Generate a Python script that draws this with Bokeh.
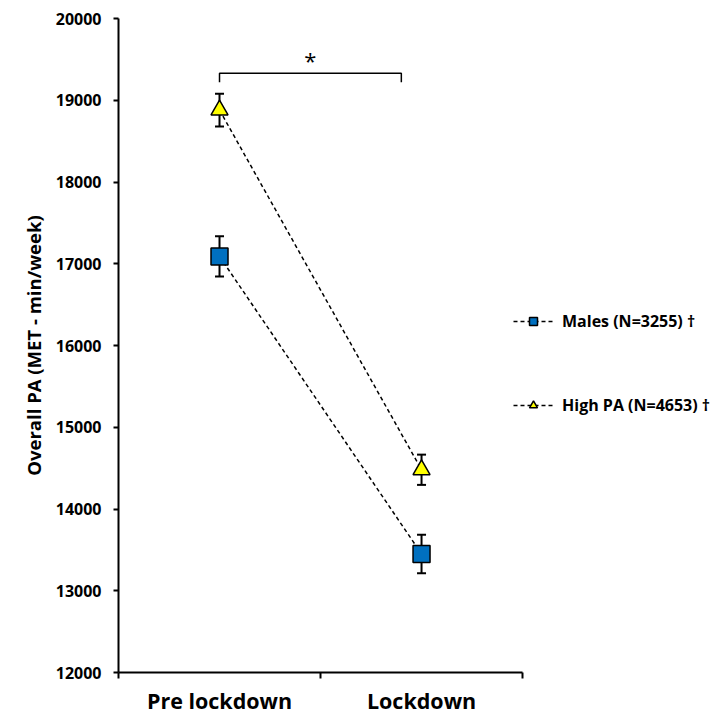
from bokeh.plotting import figure
from bokeh.models import (ColumnDataSource, Whisker, TeeHead, FixedTicker, Legend,
                          LegendItem, Range1d)
from bokeh.embed import file_html
from bokeh.resources import INLINE
from bokeh.core.properties import value

# ---- data ----
periods = ["Pre lockdown", "Lockdown"]
period_x = [0.5, 1.5]
males_mean = [17090, 13450]
males_se = [245, 235]
highpa_mean = [18880, 14480]
highpa_se = [200, 185]
males_label = "Males (N=3255) \u2020"
highpa_label = "High PA (N=4653) \u2020"
y_ticks = [12000, 13000, 14000, 15000, 16000, 17000, 18000, 19000, 20000]
x_bounds = [0, 1, 2]
sig_x = [0.5, 1.4]
sig_y = 19330
sig_drop = 19220
sig_text = "*"

FONT = "Open Sans"

# frame spans 118..717 px horizontally; the x axis itself is drawn only over 0..2
p = figure(width=717, height=717,
           x_range=Range1d(0, 2.965), y_range=Range1d(12000, 20000),
           output_backend="svg", toolbar_location=None,
           min_border_left=118, min_border_right=0,
           min_border_top=18, min_border_bottom=45)
p.outline_line_color = None
p.xgrid.visible = False
p.ygrid.visible = False
p.background_fill_color = "white"
p.border_fill_color = "white"

# ---- axes ----
xa = p.xaxis[0]
xa.bounds = (x_bounds[0], x_bounds[-1])
xa.ticker = FixedTicker(ticks=period_x, minor_ticks=x_bounds)
xa.major_label_overrides = {x: lab for x, lab in zip(period_x, periods)}
xa.major_tick_out = 0
xa.major_tick_in = 0
xa.minor_tick_out = 6
xa.minor_tick_in = 0
xa.minor_tick_line_color = "black"
xa.minor_tick_line_width = 2
xa.axis_line_color = "black"
xa.axis_line_width = 2
xa.major_label_text_font = FONT
xa.major_label_text_font_style = "bold"
xa.major_label_text_font_size = "21.5px"
xa.major_label_text_color = "black"
xa.major_label_standoff = 7

ya = p.yaxis[0]
ya.ticker = FixedTicker(ticks=y_ticks)
ya.minor_tick_line_color = None
ya.major_tick_out = 5
ya.major_tick_in = 0
ya.major_tick_line_color = "black"
ya.major_tick_line_width = 2
ya.axis_line_color = "black"
ya.axis_line_width = 2
ya.major_label_text_font = FONT
ya.major_label_text_font_style = "bold"
ya.major_label_text_font_size = "16px"
ya.major_label_text_color = "black"
ya.major_label_standoff = 12
ya.axis_label = "Overall PA (MET - min/week)"
ya.axis_label_text_font = FONT
ya.axis_label_text_font_style = "bold"
ya.axis_label_text_font_size = "18.5px"
ya.axis_label_text_color = "black"
ya.axis_label_standoff = 7

# ---- connecting dashed lines ----
l_m = p.line(period_x, males_mean, line_color="black", line_width=1.5, line_dash="4 3")
l_h = p.line(period_x, highpa_mean, line_color="black", line_width=1.5, line_dash="4 3")

# ---- error bars ----
for mean, se in ((males_mean, males_se), (highpa_mean, highpa_se)):
    src = ColumnDataSource(dict(x=period_x,
                                upper=[m + s for m, s in zip(mean, se)],
                                lower=[m - s for m, s in zip(mean, se)]))
    w = Whisker(base="x", upper="upper", lower="lower", source=src,
                line_color="black", line_width=2,
                upper_head=TeeHead(size=9, line_color="black", line_width=2),
                lower_head=TeeHead(size=9, line_color="black", line_width=2))
    p.add_layout(w)

# ---- markers ----
s_m = p.scatter(period_x, males_mean, marker="square", size=17,
                fill_color="#0070C0", line_color="black", line_width=1.5)
s_h = p.scatter(period_x, highpa_mean, marker="triangle", size=17,
                fill_color="#FFFF00", line_color="black", line_width=1.5)

# ---- significance bracket ----
p.line([sig_x[0], sig_x[0], sig_x[1], sig_x[1]],
       [sig_drop, sig_y, sig_y, sig_drop], line_color="black", line_width=1.5)
p.text(x=[sum(sig_x) / 2], y=[sig_y], text=[sig_text],
       text_font=value(FONT), text_font_size="22px", text_align="center",
       text_baseline="bottom", text_color="black", y_offset=2)

# ---- legend ----
legend = Legend(items=[LegendItem(label=males_label, renderers=[l_m, s_m]),
                       LegendItem(label=highpa_label, renderers=[l_h, s_h])],
                location=(395, 256))
legend.border_line_color = None
legend.background_fill_alpha = 0
legend.padding = 0
legend.margin = 0
legend.spacing = 62
legend.glyph_width = 40
legend.glyph_height = 20
legend.label_standoff = 9
legend.label_text_font = FONT
legend.label_text_font_style = "bold"
legend.label_text_font_size = "16px"
legend.label_text_color = "black"
p.add_layout(legend)

open("out.html", "w").write(file_html(p, INLINE))
